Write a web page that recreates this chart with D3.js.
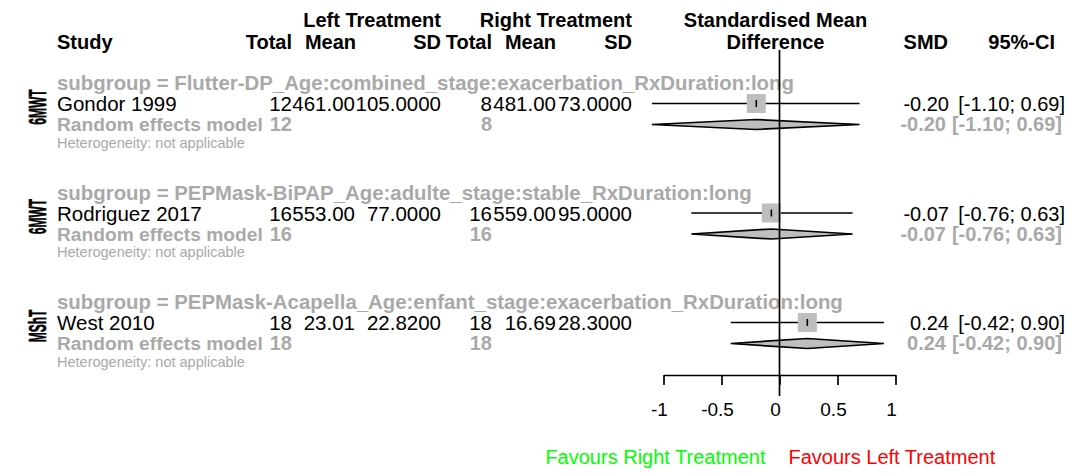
<!DOCTYPE html>
<html>
<head>
<meta charset="utf-8">
<script src="https://cdn.jsdelivr.net/npm/d3@7"></script>
<style>
  html, body { margin: 0; padding: 0; background: #ffffff; }
  svg { display: block; font-family: "Liberation Sans", Arial, Helvetica, sans-serif; }
</style>
</head>
<body>
<svg id="chart" width="1080" height="474"></svg>
<script>
// ---- data -------------------------------------------------------------
const outcomes   = ["6MWT", "6MWT", "MShT"];
const subgroups  = [
  "subgroup = Flutter-DP_Age:combined_stage:exacerbation_RxDuration:long",
  "subgroup = PEPMask-BiPAP_Age:adulte_stage:stable_RxDuration:long",
  "subgroup = PEPMask-Acapella_Age:enfant_stage:exacerbation_RxDuration:long"
];
const studies    = ["Gondor 1999", "Rodriguez 2017", "West 2010"];
const leftTotal  = [12, 16, 18];
const leftMean   = [461.00, 553.00, 23.01];
const leftSD     = [105.0, 77.0, 22.82];
const rightTotal = [8, 16, 18];
const rightMean  = [481.00, 559.00, 16.69];
const rightSD    = [73.0, 95.0, 28.30];
const smd        = [-0.20, -0.07, 0.24];
const ciLower    = [-1.10, -0.76, -0.42];
const ciUpper    = [0.69, 0.63, 0.90];
const axisTicks  = [-1, -0.5, 0, 0.5, 1];
const reLabel    = "Random effects model";
const hetLabel   = "Heterogeneity: not applicable";

// ---- layout -------------------------------------------------------------
const svg = d3.select("#chart");
svg.append("rect").attr("width", 1080).attr("height", 474).attr("fill", "#ffffff");

const x = d3.scaleLinear().domain([-1, 1]).range([663.5, 895.5]);
const groupY = d3.scaleLinear().domain([0, 1]).range([83, 192.5]); // centre of each subgroup heading row

const GREY = "#a9a9a9";
const FILL = "#bebebe";
const BODY = 20.5;
const col = {
  study: 57, lTot: 292, lMean: 355, lSD: 441,
  rTot: 492, rMean: 556, rSD: 632, smd: 949, ci: 1065
};
const f2 = d3.format(".2f"), f4 = d3.format(".4f");
const fmt = v => f2(v).replace("−", "-");
const ciText = (lo, hi) => "[" + fmt(lo) + "; " + fmt(hi) + "]";

function txt(g, s, xx, yy, opts = {}) {
  return g.append("text")
    .attr("x", xx).attr("y", yy)
    .attr("text-anchor", opts.anchor || "start")
    .attr("font-size", opts.size || BODY)
    .attr("font-weight", opts.bold ? "bold" : "normal")
    .attr("fill", opts.color || "#000")
    .text(s);
}

// ---- column headers ----------------------------------------------------
const hdr = svg.append("g");
const h1 = 27, h2 = 49;
const H = { bold: true, size: 20 };
txt(hdr, "Study", col.study, h2, H);
txt(hdr, "Left Treatment", col.lSD, h1, { ...H, anchor: "end" });
txt(hdr, "Total", col.lTot, h2, { ...H, anchor: "end" });
txt(hdr, "Mean", 356, h2, { ...H, anchor: "end" });
txt(hdr, "SD", col.lSD, h2, { ...H, anchor: "end" });
txt(hdr, "Right Treatment", col.rSD, h1, { ...H, anchor: "end" });
txt(hdr, "Total", col.rTot, h2, { ...H, anchor: "end" });
txt(hdr, "Mean", col.rMean, h2, { ...H, anchor: "end" });
txt(hdr, "SD", col.rSD, h2, { ...H, anchor: "end" });
txt(hdr, "Standardised Mean", x(0) - 4, h1, { ...H, anchor: "middle" });
txt(hdr, "Difference", x(0) - 4, h2, { ...H, anchor: "middle" });
txt(hdr, "SMD", 948, h2, { ...H, anchor: "end" });
txt(hdr, "95%-CI", 1055, h2, { ...H, anchor: "end" });

// ---- subgroup blocks -----------------------------------------------------
studies.forEach((name, i) => {
  const c = groupY(i);
  const yStudy = c + 20.5, yRE = c + 41.5, yHet = c + 57;
  const g = svg.append("g");

  // rotated outcome label
  g.append("text")
    .attr("transform", `translate(45.5,${yStudy + 3.5}) rotate(-90) scale(0.5,1)`)
    .attr("text-anchor", "middle")
    .attr("font-size", 24).attr("font-weight", "bold")
    .attr("stroke", "#000").attr("stroke-width", 0.6)
    .text(outcomes[i]);

  // subgroup heading
  txt(g, subgroups[i], col.study, c + 7, { bold: true, color: GREY, size: 20.4 });

  // study row
  const by = yStudy + 7.5;
  txt(g, name, col.study, by);
  txt(g, leftTotal[i], col.lTot, by, { anchor: "end" });
  txt(g, f2(leftMean[i]), col.lMean, by, { anchor: "end" });
  txt(g, f4(leftSD[i]), col.lSD, by, { anchor: "end" });
  txt(g, rightTotal[i], col.rTot, by, { anchor: "end" });
  txt(g, f2(rightMean[i]), col.rMean, by, { anchor: "end" });
  txt(g, f4(rightSD[i]), col.rSD, by, { anchor: "end" });
  txt(g, fmt(smd[i]), col.smd, by, { anchor: "end", size: 20 });
  txt(g, ciText(ciLower[i], ciUpper[i]), col.ci, by, { anchor: "end", size: 20 });

  // confidence interval, square and centre tick
  g.append("line")
    .attr("x1", x(ciLower[i])).attr("x2", x(ciUpper[i]))
    .attr("y1", yStudy).attr("y2", yStudy)
    .attr("stroke", "#000").attr("stroke-width", 1.7);
  const half = 9.5;
  g.append("rect")
    .attr("x", x(smd[i]) - half).attr("y", yStudy - half)
    .attr("width", half * 2).attr("height", half * 2)
    .attr("fill", FILL);
  g.append("line")
    .attr("x1", x(smd[i])).attr("x2", x(smd[i]))
    .attr("y1", yStudy - 3.5).attr("y2", yStudy + 3.5)
    .attr("stroke", "#000").attr("stroke-width", 1.6);

  // random effects row
  const ry = yRE + 6.5;
  txt(g, reLabel, col.study, ry, { bold: true, color: GREY, size: 19.2 });
  txt(g, leftTotal[i], col.lTot, ry, { bold: true, color: GREY, anchor: "end", size: 20 });
  txt(g, rightTotal[i], col.rTot, ry, { bold: true, color: GREY, anchor: "end", size: 20 });
  txt(g, fmt(smd[i]), 946, ry, { bold: true, color: GREY, anchor: "end", size: 20 });
  txt(g, ciText(ciLower[i], ciUpper[i]), 1062, ry, { bold: true, color: GREY, anchor: "end", size: 20 });

  const dh = 5;
  const diamond = [
    [x(ciLower[i]), yRE], [x(smd[i]), yRE - dh],
    [x(ciUpper[i]), yRE], [x(smd[i]), yRE + dh]
  ];
  g.append("path")
    .attr("d", d3.line()(diamond) + "Z")
    .attr("fill", FILL).attr("stroke", "#000").attr("stroke-width", 1.7)
    .attr("stroke-linejoin", "miter");

  // heterogeneity note
  txt(g, hetLabel, col.study, yHet + 7.5, { color: GREY, size: 14.5 });
});

// zero reference line, drawn over the diamonds
svg.append("line")
  .attr("x1", x(0)).attr("x2", x(0))
  .attr("y1", 50).attr("y2", 396)
  .attr("stroke", "#000").attr("stroke-width", 1.7);

// ---- x axis --------------------------------------------------------------
const axis = svg.append("g")
  .attr("transform", "translate(0,375)")
  .call(d3.axisBottom(x).tickValues(axisTicks).tickSize(10).tickSizeOuter(0)
        .tickFormat(d => String(d).replace("−", "-")));
axis.select(".domain").attr("stroke", "#000").attr("stroke-width", 1.7);
axis.selectAll(".tick line").attr("stroke", "#000").attr("stroke-width", 1.7);
axis.selectAll(".tick text")
  .attr("y", 28).attr("x", -4.5)
  .attr("font-size", 19).attr("fill", "#000")
  .attr("font-family", "Liberation Sans, Arial, sans-serif");

// ---- favour labels -----------------------------------------------------
txt(svg, "Favours Right Treatment", x(0) - 14, 464, { anchor: "end", color: "#00ff00", size: 20 });
txt(svg, "Favours Left Treatment", x(0) + 9, 464, { color: "#ff0000", size: 20 });
</script>
</body>
</html>
